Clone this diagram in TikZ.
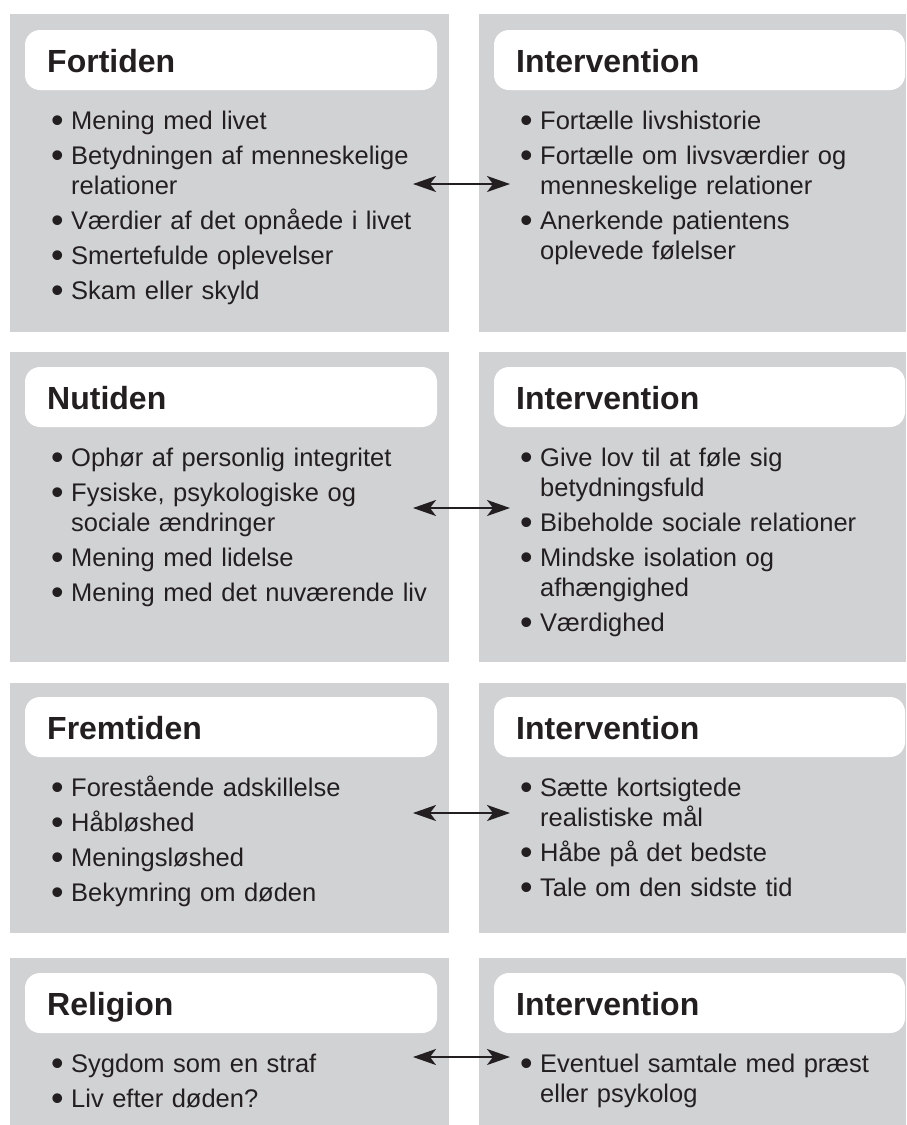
\documentclass[tikz,border=0pt]{standalone}
\usepackage{fontspec}
\setmainfont{Liberation Sans}
\usetikzlibrary{arrows.meta}
\definecolor{panelgrey}{HTML}{D1D2D4}
\definecolor{ink}{HTML}{231F20}
\setlength{\parindent}{0pt}

% one bullet point and the indented continuation of a wrapped point
\newcommand{\bulitem}[1]{\makebox[20pt][l]{\raisebox{-3.5pt}{\scalebox{1.4}{•}}}#1}
\newcommand{\cont}[1]{\hspace*{20pt}#1}

\begin{document}
\begin{tikzpicture}[x=1pt,y=-1pt,
  panel/.style={fill=panelgrey},
  headbox/.style={fill=white, rounded corners=15pt},
  heading/.style={anchor=base west, inner sep=0pt, text=ink,
    font=\fontsize{32}{36}\selectfont\bfseries},
  bullets/.style={anchor=base west, inner sep=0pt, text=ink, text width=400pt,
    align=left, font=\fontsize{25.5}{30}\selectfont},
  link/.style={{Stealth[length=23pt,width=16pt,inset=6pt]}-{Stealth[length=23pt,width=16pt,inset=6pt]},
    line width=2pt, draw=ink}
]
\useasboundingbox (0,0) rectangle (906,1125);

% grey panels
\fill[panel] (10,14)  rectangle (449,332);
\fill[panel] (479,14) rectangle (906,332);
\fill[panel] (10,352)  rectangle (449,662);
\fill[panel] (479,352) rectangle (906,662);
\fill[panel] (10,683)  rectangle (449,933);
\fill[panel] (479,683) rectangle (906,933);
\fill[panel] (10,958)  rectangle (449,1125);
\fill[panel] (479,958) rectangle (906,1125);

% white heading boxes
\fill[headbox] (25,30)   rectangle (437,90);
\fill[headbox] (494,30)  rectangle (905,90);
\fill[headbox] (25,367)  rectangle (437,427);
\fill[headbox] (494,367) rectangle (905,427);
\fill[headbox] (25,697)  rectangle (437,757);
\fill[headbox] (494,697) rectangle (905,757);
\fill[headbox] (25,973)  rectangle (437,1033);
\fill[headbox] (494,973) rectangle (905,1033);

% headings
\node[heading] (h1l) at (47,72)    {Fortiden};
\node[heading] (h1r) at (516,72)   {Intervention};
\node[heading] (h2l) at (47,409)   {Nutiden};
\node[heading] (h2r) at (516,409)  {Intervention};
\node[heading] (h3l) at (47,739)   {Fremtiden};
\node[heading] (h3r) at (516,739)  {Intervention};
\node[heading] (h4l) at (47,1015)  {Religion};
\node[heading] (h4r) at (516,1015) {Intervention};

% bullet lists
\node[bullets] (b1l) at (51,129) {%
\bulitem{Mening med livet}\\[5pt]
\bulitem{Betydningen af menneskelige}\\
\cont{relationer}\\[5pt]
\bulitem{Værdier af det opnåede i livet}\\[5pt]
\bulitem{Smertefulde oplevelser}\\[5pt]
\bulitem{Skam eller skyld}};

\node[bullets] (b1r) at (520,129) {%
\bulitem{Fortælle livshistorie}\\[5pt]
\bulitem{Fortælle om livsværdier og}\\
\cont{menneskelige relationer}\\[5pt]
\bulitem{Anerkende patientens}\\
\cont{oplevede følelser}};

\node[bullets] (b2l) at (51,466) {%
\bulitem{Ophør af personlig integritet}\\[5pt]
\bulitem{Fysiske, psykologiske og}\\
\cont{sociale ændringer}\\[5pt]
\bulitem{Mening med lidelse}\\[5pt]
\bulitem{Mening med det nuværende liv}};

\node[bullets] (b2r) at (520,466) {%
\bulitem{Give lov til at føle sig}\\
\cont{betydningsfuld}\\[5pt]
\bulitem{Bibeholde sociale relationer}\\[5pt]
\bulitem{Mindske isolation og}\\
\cont{afhængighed}\\[5pt]
\bulitem{Værdighed}};

\node[bullets] (b3l) at (51,796) {%
\bulitem{Forestående adskillelse}\\[5pt]
\bulitem{Håbløshed}\\[5pt]
\bulitem{Meningsløshed}\\[5pt]
\bulitem{Bekymring om døden}};

\node[bullets] (b3r) at (520,796) {%
\bulitem{Sætte kortsigtede}\\
\cont{realistiske mål}\\[5pt]
\bulitem{Håbe på det bedste}\\[5pt]
\bulitem{Tale om den sidste tid}};

\node[bullets] (b4l) at (51,1072) {%
\bulitem{Sygdom som en straf}\\[5pt]
\bulitem{Liv efter døden?}};

\node[bullets] (b4r) at (520,1072) {%
\bulitem{Eventuel samtale med præst}\\
\cont{eller psykolog}};

% two-way links between each topic and its intervention
\coordinate (l1) at (413,184);  \coordinate (r1) at (510,184);
\coordinate (l2) at (413,508);  \coordinate (r2) at (510,508);
\coordinate (l3) at (413,813);  \coordinate (r3) at (510,813);
\coordinate (l4) at (413,1057); \coordinate (r4) at (510,1057);
\draw[link] (l1) -- (r1);
\draw[link] (l2) -- (r2);
\draw[link] (l3) -- (r3);
\draw[link] (l4) -- (r4);
\end{tikzpicture}
\end{document}
